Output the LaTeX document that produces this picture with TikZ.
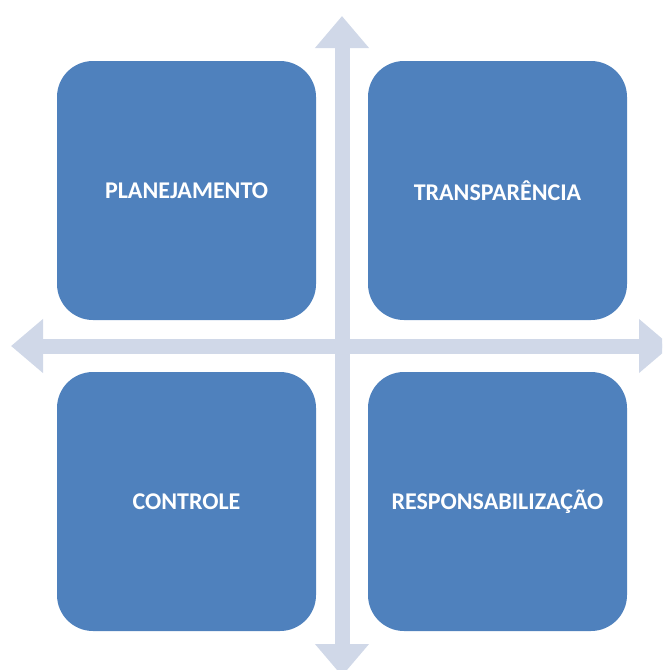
\documentclass[tikz,border=0pt]{standalone}
\usepackage{fontspec}
\setmainfont{Carlito}
\usetikzlibrary{arrows.meta}
\definecolor{boxblue}{HTML}{4F81BD}
\definecolor{axisgray}{HTML}{D0D8E8}
\begin{document}
\begin{tikzpicture}[x=1pt,y=-1pt]
            \tikzstyle{quadrant}=[fill=boxblue, rounded corners=36pt, minimum width=259pt, minimum height=259pt, inner sep=0pt, text=white, font=\fontsize{24}{28}\selectfont\bfseries]
            \tikzstyle{axis}=[axisgray, line width=15pt, {Triangle[width=52pt,length=32pt]}-{Triangle[width=52pt,length=32pt]}]
            \useasboundingbox (0,0) rectangle (662,670);
            \clip (0,0) rectangle (662,670);
            % axes
            \coordinate (top) at (342,16);
            \coordinate (bottom) at (342,676);
            \coordinate (left) at (11,346);
            \coordinate (right) at (671,346);
            \draw [axis] (top) -- (bottom);
            \draw [axis] (left) -- (right);
            % quadrants
            \node [quadrant] (plan) at (186.5,190.5) {PLANEJAMENTO};
            \node [quadrant] (transp) at (497.5,190.5) {TRANSPARÊNCIA};
            \node [quadrant] (contr) at (186.5,501.5) {CONTROLE};
            \node [quadrant] (resp) at (497.5,501.5) {RESPONSABILIZAÇÃO};
\end{tikzpicture}
\end{document}
